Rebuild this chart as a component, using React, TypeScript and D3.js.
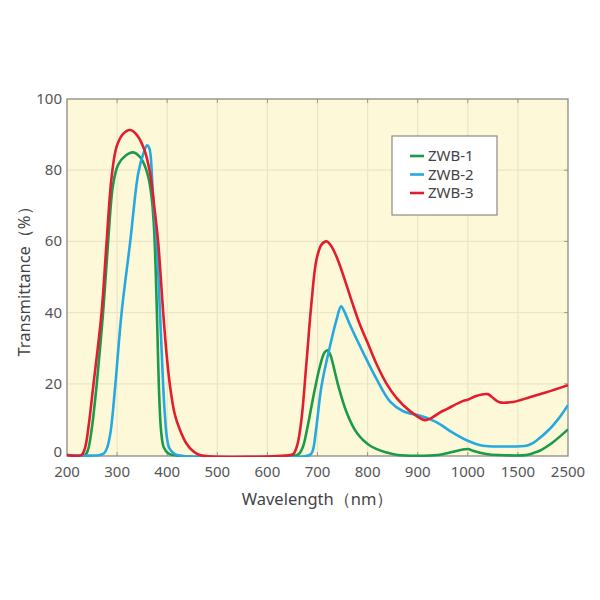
import React from "react";
import * as d3 from "d3";

const xTicks = [200, 300, 400, 500, 600, 700, 800, 900, 1000, 1500, 2500];
const yTicks = [0, 20, 40, 60, 80, 100];
const seriesNames = ["ZWB-1", "ZWB-2", "ZWB-3"];
const seriesColors = ["#1b9a4a", "#25a9e0", "#e11d2e"];

const zwb1: [number, number][] = [
  [200, 0], [236, 0], [242, 1.5], [250, 8], [259, 19.4], [272, 40], [282, 59.7],
  [292, 76], [302, 81.5], [316, 84], [332, 85], [345, 83.8], [356, 81],
  [364, 77], [370, 71], [374, 63], [377, 52], [379.5, 40], [382, 26],
  [384.5, 15], [388, 6.5], [393, 2.2], [402, 0.5], [412, 0],
  [660, 0], [670, 2], [678, 6.4], [692, 16.6], [705, 25], [714, 28.8],
  [720, 29.4], [726, 28], [731, 25.5], [741.6, 19.4], [758, 12], [778, 6.3],
  [805, 2.6], [838, 0.7], [860, 0], [940, 0], [964, 0.7], [1000, 1.7],
  [1050, 1.2], [1184, 0.3], [1300, 0], [1670, 0], [1800, 0.5], [1934, 1.2],
  [2200, 3.6], [2500, 7.2],
];

const zwb2: [number, number][] = [
  [200, 0], [266, 0], [274, 0.5], [280, 2], [287, 6.5], [296, 19], [309, 40],
  [326, 59.7], [342, 79], [352, 84.5], [360, 87], [364, 86.3], [367, 84],
  [372, 72], [379, 59.7], [385.6, 40], [392, 19.4], [396, 10], [399, 5.3],
  [404, 2], [412, 0.6], [420, 0],
  [684, 0], [690, 1], [698, 8.2], [708, 19.4], [725, 30.6], [738, 38],
  [747, 41.8], [753, 40.5], [765, 36.5], [791, 28.8], [818, 21.3], [845, 15],
  [871, 12.3], [905, 11], [925, 10], [944, 8.7], [964, 6.8], [1000, 4],
  [1150, 2.6], [1384, 2.4], [1668, 2.6], [1780, 3.2], [1868, 4], [2134, 7.3],
  [2300, 10], [2500, 14],
];

const zwb3: [number, number][] = [
  [200, 0], [229, 0], [236, 2], [243, 8], [252.5, 19.4], [269, 40], [279, 59.7],
  [289, 78], [299, 86.6], [312, 90.2], [326, 91.3], [340, 89.8], [355, 85.5],
  [366, 79], [374, 70], [382, 59.7], [392, 40], [399, 28], [405.6, 19.4],
  [415, 11.5], [425.5, 7], [438, 3.3], [451.5, 1.1], [465, 0],
  [646, 0], [652, 0.3], [660, 3], [668, 10], [678, 26], [688, 42.8],
  [698, 54.9], [708, 59.1], [718, 60], [728, 58.6], [740, 55], [755, 49],
  [770, 42.5], [785, 36.5], [800, 31.5], [818, 25.5], [838, 20], [858, 16],
  [884, 12.4], [914, 9.8], [926, 10.3], [944, 11.9], [958, 12.9], [991, 15.2],
  [1000, 15.5], [1084, 16.6], [1200, 17.1], [1240, 16.3], [1317, 14.8],
  [1450, 14.9], [1734, 16.2], [2068, 17.6], [2500, 19.6],
];

const allSeries = [zwb1, zwb2, zwb3];

const W = 600;
const H = 600;
const left = 67;
const right = 568;
const top = 99;
const bottom = 456;

export default function App() {
  const step = (right - left) / (xTicks.length - 1);
  const x = d3
    .scaleLinear()
    .domain(xTicks)
    .range(xTicks.map((_, i) => left + i * step));
  const y = d3.scaleLinear().domain([0, 100]).range([bottom - 1, top]);

  const line = d3
    .line<[number, number]>()
    .x((d) => x(d[0]))
    .y((d) => y(Math.max(0, d[1])))
    .curve(d3.curveCatmullRom.alpha(0.5));

  const font = "'Noto Sans', 'Open Sans', sans-serif";
  const tickColor = "#555";

  return (
    <svg
      width={W}
      height={H}
      style={{ position: "absolute", left: 0, top: 0, background: "#fff" }}
    >
      <defs>
        <clipPath id="plotClip">
          <rect x={left} y={top - 2} width={right - left} height={bottom - top + 3} />
        </clipPath>
      </defs>
      <rect x={left} y={top} width={right - left} height={bottom - top} fill="#fdf9d8" />
      {xTicks.slice(1, -1).map((t) => (
        <line key={"gx" + t} x1={x(t)} x2={x(t)} y1={top} y2={bottom} stroke="#e9e5c6" strokeWidth={1.2} />
      ))}
      {yTicks.slice(1, -1).map((t) => (
        <line key={"gy" + t} x1={left} x2={right} y1={y(t)} y2={y(t)} stroke="#e9e5c6" strokeWidth={1.2} />
      ))}
      {xTicks.slice(1, -1).map((t) => (
        <g key={"tx" + t}>
          <line x1={x(t)} x2={x(t)} y1={top} y2={top + 4} stroke="#999" strokeWidth={1} />
          <line x1={x(t)} x2={x(t)} y1={bottom} y2={bottom - 4} stroke="#999" strokeWidth={1} />
        </g>
      ))}
      {yTicks.slice(1, -1).map((t) => (
        <g key={"ty" + t}>
          <line x1={right} x2={right - 4} y1={y(t)} y2={y(t)} stroke="#999" strokeWidth={1} />
        </g>
      ))}
      <rect x={left} y={top} width={right - left} height={bottom - top} fill="none" stroke="#8a8a84" strokeWidth={1.3} />
      <g clipPath="url(#plotClip)">
        {allSeries.map((s, i) => (
          <path
            key={seriesNames[i]}
            d={line(s) || ""}
            fill="none"
            stroke={seriesColors[i]}
            strokeWidth={2.6}
            strokeLinejoin="round"
          />
        ))}
      </g>
      {xTicks.map((t) => (
        <text
          key={"lx" + t}
          x={x(t)}
          y={bottom + 21}
          textAnchor="middle"
          fontFamily={font}
          fontSize={15}
          fill={tickColor}
        >
          {t}
        </text>
      ))}
      {yTicks.map((t) => (
        <text
          key={"ly" + t}
          x={left - 5}
          y={y(t) + (t === 0 ? 2 : 5)}
          textAnchor="end"
          fontFamily={font}
          fontSize={15}
          fill={tickColor}
        >
          {t}
        </text>
      ))}
      <text
        x={(left + right) / 2}
        y={505}
        textAnchor="middle"
        fontFamily={font}
        fontSize={16.5}
        fill="#444"
      >
        Wavelength（nm）
      </text>
      <text
        transform={`translate(30, ${(top + bottom) / 2}) rotate(-90)`}
        textAnchor="middle"
        fontFamily={font}
        fontSize={16.5}
        fill="#444"
      >
        Transmittance（%）
      </text>
      <g>
        <rect x={392} y={136} width={105} height={79} fill="#fff" stroke="#8a8a84" strokeWidth={1.2} />
        {seriesNames.map((n, i) => (
          <g key={"lg" + n}>
            <line
              x1={410}
              x2={424}
              y1={156 + i * 18.5}
              y2={156 + i * 18.5}
              stroke={seriesColors[i]}
              strokeWidth={2.6}
            />
            <text x={428} y={156 + i * 18.5 + 5} fontFamily={font} fontSize={15} fill="#444">
              {n}
            </text>
          </g>
        ))}
      </g>
    </svg>
  );
}
